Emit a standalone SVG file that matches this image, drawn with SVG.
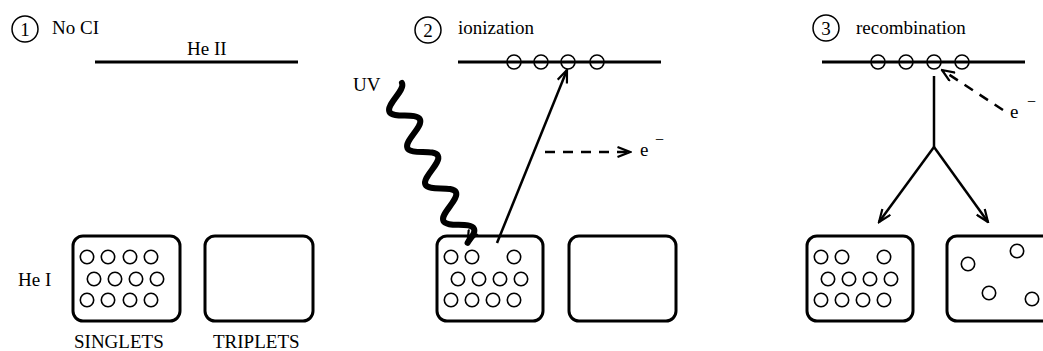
<svg xmlns="http://www.w3.org/2000/svg" width="1043" height="351" viewBox="0 0 1043 351">
<style>
text{font-family:"Liberation Serif","Times New Roman",serif;font-size:19px;fill:#000}
.lvl{stroke:#000;stroke-width:3;fill:none}
.box{stroke:#000;stroke-width:3;fill:#fff}
.atom{stroke:#000;stroke-width:1.6;fill:none}
.num{stroke:#000;stroke-width:1.5;fill:none}
.arr{stroke:#000;stroke-width:2.5;fill:none}
.dash{stroke:#000;stroke-width:2.5;fill:none;stroke-dasharray:10 8}
</style>
<defs>
<marker id="open" viewBox="0 0 15 12" refX="13.5" refY="6" markerWidth="15" markerHeight="12" markerUnits="userSpaceOnUse" orient="auto">
<path d="M1,1 L13.5,6 L1,11" fill="none" stroke="#000" stroke-width="2.2" stroke-dasharray="none"/>
</marker>
</defs>

<!-- Panel 1 -->
<g id="title1"><circle class="num" cx="25" cy="29" r="13"/><text x="25" y="36" text-anchor="middle">1</text><text x="52" y="34">No CI</text></g>
<g id="heII-1"><line class="lvl" x1="95" y1="62" x2="298" y2="62"/><text x="187" y="55">He II</text></g>
<text x="18" y="286">He I</text>
<g id="singlets1">
<rect class="box" x="73" y="236" width="107" height="85" rx="10"/>
<g class="atom"><circle cx="87" cy="257" r="6.7"/><circle cx="108" cy="257" r="6.7"/><circle cx="130" cy="257" r="6.7"/><circle cx="151" cy="257" r="6.7"/>
<circle cx="94" cy="279" r="6.7"/><circle cx="115" cy="279" r="6.7"/><circle cx="136" cy="279" r="6.7"/><circle cx="157" cy="279" r="6.7"/>
<circle cx="87" cy="300" r="6.7"/><circle cx="108" cy="300" r="6.7"/><circle cx="130" cy="300" r="6.7"/><circle cx="151" cy="300" r="6.7"/></g>
<text x="74" y="348">SINGLETS</text>
</g>
<g id="triplets1"><rect class="box" x="205" y="236" width="108" height="85" rx="10"/><text x="213" y="348">TRIPLETS</text></g>

<!-- Panel 2 -->
<g id="title2"><circle class="num" cx="428" cy="30" r="13"/><text x="428" y="37" text-anchor="middle">2</text><text x="458" y="34">ionization</text></g>
<g id="heII-2"><line class="lvl" x1="458" y1="62" x2="661" y2="62"/>
<g class="atom"><circle cx="514" cy="62" r="7"/><circle cx="541" cy="62" r="7"/><circle cx="568" cy="62" r="7"/><circle cx="597" cy="62" r="7"/></g></g>
<g id="singlets2">
<rect class="box" x="437" y="236" width="106" height="85" rx="10"/>
<g class="atom"><circle cx="451" cy="257" r="6.7"/><circle cx="472" cy="257" r="6.7"/><circle cx="514" cy="257" r="6.7"/>
<circle cx="458" cy="279" r="6.7"/><circle cx="479" cy="279" r="6.7"/><circle cx="500" cy="279" r="6.7"/><circle cx="521" cy="279" r="6.7"/>
<circle cx="451" cy="300" r="6.7"/><circle cx="472" cy="300" r="6.7"/><circle cx="493" cy="300" r="6.7"/><circle cx="514" cy="300" r="6.7"/></g>
</g>
<g id="triplets2"><rect class="box" x="569" y="236" width="107" height="85" rx="10"/></g>
<text x="353" y="91" font-size="18">UV</text>
<text x="640" y="156">e<tspan x="655" y="145" font-size="16">−</tspan></text>

<!-- Panel 3 -->
<g id="title3"><circle class="num" cx="826" cy="28" r="13"/><text x="826" y="35" text-anchor="middle">3</text><text x="856" y="34">recombination</text></g>
<g id="heII-3"><line class="lvl" x1="822" y1="62" x2="1025" y2="62"/>
<g class="atom"><circle cx="878" cy="62" r="7"/><circle cx="906" cy="62" r="7"/><circle cx="934" cy="62" r="7"/><circle cx="962" cy="62" r="7"/></g></g>
<g id="singlets3">
<rect class="box" x="807" y="236" width="106" height="85" rx="10"/>
<g class="atom"><circle cx="821" cy="257" r="6.7"/><circle cx="842" cy="257" r="6.7"/><circle cx="884" cy="257" r="6.7"/>
<circle cx="828" cy="279" r="6.7"/><circle cx="849" cy="279" r="6.7"/><circle cx="870" cy="279" r="6.7"/><circle cx="891" cy="279" r="6.7"/>
<circle cx="821" cy="300" r="6.7"/><circle cx="842" cy="300" r="6.7"/><circle cx="863" cy="300" r="6.7"/><circle cx="884" cy="300" r="6.7"/></g>
</g>
<g id="triplets3"><rect class="box" x="947" y="236" width="107" height="85" rx="10"/>
<g class="atom"><circle cx="968" cy="264" r="6.7"/><circle cx="1017" cy="251" r="6.7"/><circle cx="989" cy="293" r="6.7"/><circle cx="1032" cy="299" r="6.7"/></g></g>
<text x="1010" y="118">e<tspan x="1027" y="107" font-size="16">−</tspan></text>

<!-- Connectors -->
<g id="connectors">
<g transform="translate(391.2,88.3) rotate(63.7)">
<path d="M0,-12 c8,0 12.3,24 20.3,24 s12.3,-24 20.3,-24 s12.3,24 20.3,24 s12.3,-24 20.3,-24 s12.3,24 20.3,24 s12.3,-24 20.3,-24 s12.3,24 20.3,24 s12.3,-24 20.3,-24 c5,0 7,8 10,12" stroke="#000" stroke-width="6" fill="none" stroke-linecap="round" marker-end="url(#open)"/>
</g>
<line class="arr" x1="497" y1="243" x2="567" y2="70" marker-end="url(#open)"/>
<line class="dash" x1="545" y1="152" x2="630" y2="152" marker-end="url(#open)"/>
<line class="dash" x1="1003" y1="110" x2="942" y2="70" marker-end="url(#open)"/>
<path class="arr" d="M934,76 L934,147"/>
<line class="arr" x1="934" y1="147" x2="879" y2="222" marker-end="url(#open)"/>
<line class="arr" x1="934" y1="147" x2="988" y2="222" marker-end="url(#open)"/>
</g>
</svg>
